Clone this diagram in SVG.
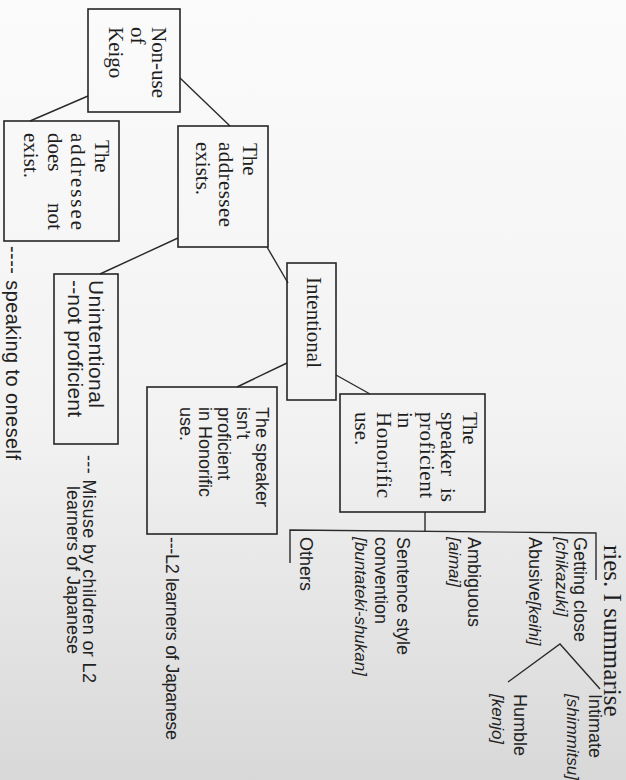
<svg xmlns="http://www.w3.org/2000/svg" width="626" height="780" viewBox="0 0 626 780">
<defs>
<linearGradient id="bg" x1="0" y1="0" x2="0" y2="1">
<stop offset="0" stop-color="#fbfbfb"/>
<stop offset="0.55" stop-color="#f2f2f2"/>
<stop offset="1" stop-color="#d8d8d8"/>
</linearGradient>
</defs>
<style>
.box{fill:none;stroke:#262626;stroke-width:1.6}
.ln{fill:none;stroke:#2a2a2a;stroke-width:1.4}
.tm{font-family:"Liberation Serif","Times New Roman",serif;font-size:21px;fill:#1e1e1e}
.op{font-family:"Liberation Sans",Arial,sans-serif;font-size:18px;fill:#222}
.it{font-style:italic;font-size:17px}
</style>
<rect width="626" height="780" fill="url(#bg)"/>

<g id="connectors" class="ln">
<line x1="88" y1="96" x2="30" y2="121"/>
<line x1="180" y1="78" x2="230" y2="126"/>
<line x1="178" y1="238" x2="100" y2="274"/>
<line x1="267" y1="247" x2="288" y2="283"/>
<line x1="287" y1="363" x2="237" y2="387"/>
<line x1="336" y1="375" x2="370" y2="394"/>
<line x1="425" y1="512" x2="425" y2="531"/>
<polyline points="290,563 290,530 596,533 596,580"/>
<polyline points="508,682 560,644 600,689"/>
</g>

<g id="n-nonuse">
<rect class="box" x="88" y="9" width="92" height="103"/>
<text class="tm" transform="translate(152,27) rotate(90)" textLength="71" lengthAdjust="spacing">Non-use</text>
<text class="tm" transform="translate(131,27) rotate(90)">of</text>
<text class="tm" transform="translate(109,27) rotate(90)">Keigo</text>
</g>

<g id="n-notexist">
<rect class="box" x="4" y="121" width="115" height="120"/>
<text class="tm" transform="translate(95,140) rotate(90)">The</text>
<text class="tm" transform="translate(71,133) rotate(90)" textLength="97" lengthAdjust="spacing">addressee</text>
<text class="tm" transform="translate(48,133) rotate(90)">does</text>
<text class="tm" transform="translate(48,203) rotate(90)">not</text>
<text class="tm" transform="translate(24,133) rotate(90)">exist.</text>
</g>

<g id="n-exists">
<rect class="box" x="178" y="126" width="90" height="121"/>
<text class="tm" transform="translate(243,143) rotate(90)">The</text>
<text class="tm" transform="translate(219,142) rotate(90)" textLength="85" lengthAdjust="spacing">addressee</text>
<text class="tm" transform="translate(196,142) rotate(90)">exists.</text>
</g>

<g id="n-unintentional">
<rect class="box" x="54" y="274" width="64" height="170"/>
<text class="op" style="font-size:21px" transform="translate(89,280) rotate(90)" textLength="128" lengthAdjust="spacing">Unintentional</text>
<text class="op" style="font-size:21px" transform="translate(68,280) rotate(90)" textLength="137" lengthAdjust="spacing">--not proficient</text>
</g>

<g id="n-intentional">
<rect class="box" x="287" y="263" width="49" height="137"/>
<text class="tm" transform="translate(307,277) rotate(90)">Intentional</text>
</g>

<g id="n-notproficient">
<rect class="box" x="147" y="387" width="130" height="147"/>
<text class="op" transform="translate(256,407) rotate(90)">The speaker</text>
<text class="op" transform="translate(237,407) rotate(90)">isn’t</text>
<text class="op" transform="translate(218,407) rotate(90)">proficient</text>
<text class="op" transform="translate(199,407) rotate(90)">in Honorific</text>
<text class="op" transform="translate(180,407) rotate(90)">use.</text>
</g>

<g id="n-proficient">
<rect class="box" x="340" y="394" width="145" height="118"/>
<text class="tm" transform="translate(463,412) rotate(90)">The</text>
<text class="tm" transform="translate(441,412) rotate(90)">speaker</text>
<text class="tm" transform="translate(441,488) rotate(90)">is</text>
<text class="tm" transform="translate(420,412) rotate(90)" textLength="86" lengthAdjust="spacing">proficient</text>
<text class="tm" transform="translate(398,412) rotate(90)">in</text>
<text class="tm" transform="translate(377,412) rotate(90)" textLength="86" lengthAdjust="spacing">Honorific</text>
<text class="tm" transform="translate(355,412) rotate(90)">use.</text>
</g>

<g id="n-getting-close">
<text class="op" transform="translate(574,537) rotate(90)">Getting close</text>
<text class="op it" transform="translate(556,537) rotate(90)">[chikazuki]</text>
</g>
<g id="n-abusive">
<text class="op" transform="translate(529,537) rotate(90)">Abusive<tspan class="it">[keihi]</tspan></text>
</g>
<g id="n-ambiguous">
<text class="op" transform="translate(468,537) rotate(90)">Ambiguous</text>
<text class="op it" transform="translate(449,537) rotate(90)">[aimai]</text>
</g>
<g id="n-sentence-style">
<text class="op" transform="translate(397,537) rotate(90)">Sentence style</text>
<text class="op" transform="translate(375,537) rotate(90)">convention</text>
<text class="op it" transform="translate(355,537) rotate(90)">[buntateki-shukan]</text>
</g>
<g id="n-others">
<text class="op" transform="translate(300,537) rotate(90)">Others</text>
</g>
<g id="n-intimate">
<text class="op" transform="translate(589,694) rotate(90)">Intimate</text>
<text class="op it" transform="translate(567,694) rotate(90)">[shimmitsu]</text>
</g>
<g id="n-humble">
<text class="op" transform="translate(514,694) rotate(90)">Humble</text>
<text class="op it" transform="translate(492,694) rotate(90)">[kenjo]</text>
</g>

<g id="a-oneself">
<text class="op" style="font-size:20px" transform="translate(6,246) rotate(90)" textLength="214" lengthAdjust="spacing">---- speaking to oneself</text>
</g>
<g id="a-misuse">
<text class="op" transform="translate(83,455) rotate(90)" textLength="228" lengthAdjust="spacing">--- Misuse by children or L2</text>
<text class="op" transform="translate(67,486) rotate(90)">learners of Japanese</text>
</g>
<g id="a-l2">
<text class="op" transform="translate(166,537) rotate(90)" textLength="203" lengthAdjust="spacing">---L2 learners of Japanese</text>
</g>

<text class="tm" style="font-size:25px" transform="translate(604,545) rotate(90)">ries. I summarise</text>
</svg>
